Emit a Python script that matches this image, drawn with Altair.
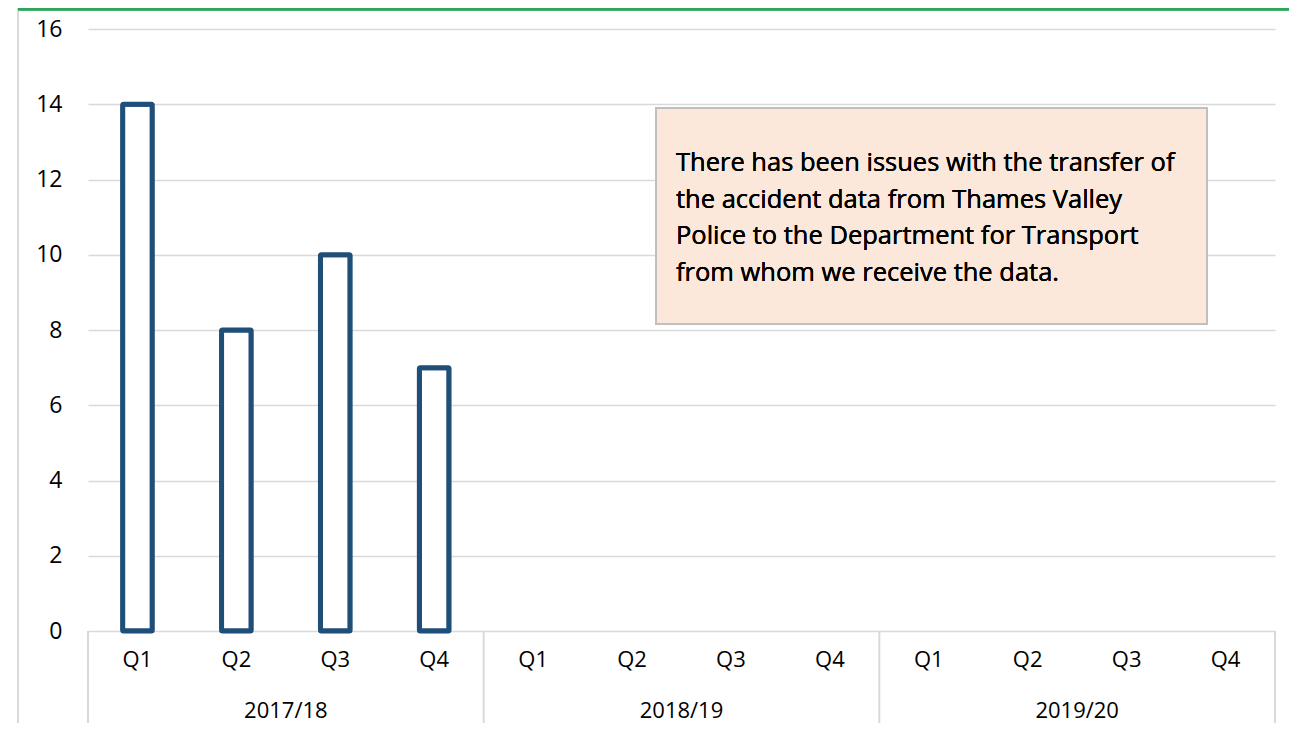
import altair as alt
import pandas as pd

years = ["2017/18", "2018/19", "2019/20"]
quarters = ["Q1", "Q2", "Q3", "Q4"]
values_2017 = [14, 8, 10, 7]
values_2018 = [None, None, None, None]
values_2019 = [None, None, None, None]
y_ticks = [0, 2, 4, 6, 8, 10, 12, 14, 16]
note_lines = [
    "There has been issues with the transfer of",
    "the accident data from Thames Valley",
    "Police to the Department for Transport",
    "from whom we receive the data.",
]

FONT = "Open Sans"
BAR_COLOR = "#1F4E79"
GRID = "#D9D9D9"
TXT = "#000000"

rows = []
for yr, vals in zip(years, [values_2017, values_2018, values_2019]):
    for q, v in zip(quarters, vals):
        rows.append({"key": f"{yr}|{q}", "year": yr, "quarter": q, "value": v})
df = pd.DataFrame(rows)
keys = list(df["key"])

W, H = 1187, 602

xscale = alt.Scale(domain=keys, paddingInner=0, paddingOuter=0)
xenc = alt.X("key:N", scale=xscale, axis=None)

base = alt.Chart(df)

bars = base.mark_bar(
    fill="white", stroke=BAR_COLOR, strokeWidth=5,
    width=alt.RelativeBandSize(0.30), cornerRadius=1,
).encode(
    x=xenc,
    y=alt.Y("value:Q", scale=alt.Scale(domain=[0, 16], nice=False),
            axis=alt.Axis(values=y_ticks, title=None, domain=False, ticks=False,
                          tickSize=0, labelPadding=26, labelFont=FONT,
                          labelFontSize=23, labelColor=TXT, grid=True,
                          gridColor=GRID, gridWidth=1.5)),
)

q_labels = base.mark_text(font=FONT, fontSize=22, color=TXT, baseline="middle").encode(
    x=xenc, y=alt.value(631), text="quarter:N"
)

year_df = pd.DataFrame({"key": [f"{y}|Q2" for y in years], "year": years})
year_labels = alt.Chart(year_df).mark_text(
    font=FONT, fontSize=22, color=TXT, baseline="middle"
).encode(
    x=alt.X("key:N", scale=xscale, axis=None, bandPosition=1),
    y=alt.value(682), text="year:N"
)

sep_df = pd.DataFrame({"key": [f"{y}|Q1" for y in years]})
seps = alt.Chart(sep_df).mark_rule(color=GRID, strokeWidth=2).encode(
    x=alt.X("key:N", scale=xscale, axis=None, bandPosition=0),
    y=alt.value(602), y2=alt.value(694)
)
sep_end_df = pd.DataFrame({"key": [f"{years[-1]}|Q4"]})
sep_end = alt.Chart(sep_end_df).mark_rule(color=GRID, strokeWidth=2).encode(
    x=alt.X("key:N", scale=xscale, axis=None, bandPosition=1),
    y=alt.value(602), y2=alt.value(694)
)

left_line = alt.Chart(sep_df).mark_rule(color=GRID, strokeWidth=2).encode(
    x=alt.value(-70), y=alt.value(-29), y2=alt.value(702)
)
top_line = alt.Chart(sep_df).mark_rule(color="#2EA55A", strokeWidth=3).encode(
    x=alt.value(-70), x2=alt.value(1209), y=alt.value(-20)
)

box = alt.Chart(sep_df).mark_rect(fill="#FCE8DA", stroke="#BFBFBF", strokeWidth=2).encode(
    x=alt.value(568), x2=alt.value(1119), y=alt.value(79), y2=alt.value(295)
)
note = alt.Chart(sep_df).mark_text(
    font=FONT, fontSize=25.5, color=TXT, align="left", baseline="middle", lineHeight=36.5
).encode(
    x=alt.value(588), y=alt.value(134), text=alt.value(note_lines)
)

chart = alt.layer(
    bars, seps, sep_end, q_labels, year_labels, left_line, top_line, box, note
).properties(
    width=W, height=H,
    autosize=alt.AutoSizeParams(type="none"),
    padding={"left": 80, "top": 21, "right": 14, "bottom": 92},
    background="white",
).configure_view(stroke=None)

chart.save("out.html", embed_options={"renderer": "svg", "actions": False})
